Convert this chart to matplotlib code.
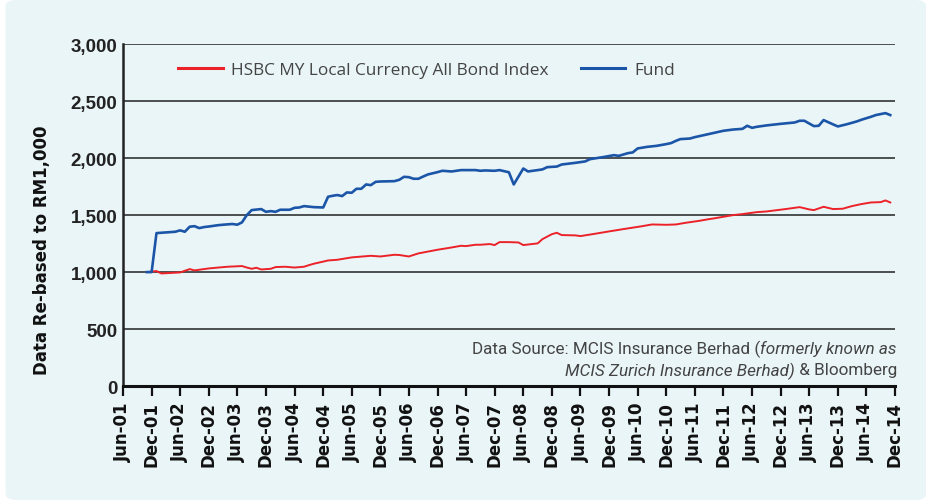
import pandas as pd
import matplotlib
matplotlib.use("Agg")
import matplotlib.pyplot as plt
import matplotlib.dates as mdates
from matplotlib.patches import FancyBboxPatch

# fund, re-based to RM1,000
FUND_DATES = [
    "2001-11", "2001-12", "2002-01", "2002-05", "2002-06", "2002-07", "2002-08",
    "2002-09", "2002-10", "2002-11", "2002-12", "2003-02", "2003-04", "2003-05",
    "2003-06", "2003-07", "2003-08", "2003-09", "2003-11", "2003-12", "2004-01",
    "2004-02", "2004-03", "2004-05", "2004-06", "2004-07", "2004-08", "2004-10",
    "2004-12", "2005-01", "2005-02", "2005-03", "2005-04", "2005-05", "2005-06",
    "2005-07", "2005-08", "2005-09", "2005-10", "2005-11", "2005-12", "2006-03",
    "2006-04", "2006-05", "2006-06", "2006-07", "2006-08", "2006-09", "2006-10",
    "2006-12", "2007-01", "2007-03", "2007-05", "2007-08", "2007-09", "2007-10",
    "2007-12", "2008-01", "2008-03", "2008-04", "2008-06", "2008-07", "2008-09",
    "2008-10", "2008-11", "2009-01", "2009-02", "2009-05", "2009-07", "2009-08",
    "2009-11", "2010-01", "2010-02", "2010-04", "2010-05", "2010-06", "2010-08",
    "2010-10", "2010-12", "2011-01", "2011-02", "2011-03", "2011-05", "2011-06",
    "2011-09", "2011-12", "2012-02", "2012-04", "2012-05", "2012-06", "2012-07",
    "2012-09", "2012-12", "2013-03", "2013-04", "2013-05", "2013-07", "2013-08",
    "2013-09", "2013-11", "2013-12", "2014-02", "2014-04", "2014-05", "2014-07",
    "2014-08", "2014-10", "2014-11",
]
FUND = [
    1000, 1000, 1342, 1354, 1366, 1354, 1398,
    1403, 1386, 1395, 1400, 1412, 1419, 1422,
    1416, 1436, 1500, 1544, 1553, 1529, 1535,
    1529, 1547, 1547, 1564, 1567, 1579, 1570,
    1567, 1661, 1670, 1676, 1667, 1699, 1696,
    1731, 1731, 1769, 1763, 1792, 1795, 1798,
    1810, 1836, 1833, 1819, 1819, 1839, 1857,
    1877, 1889, 1883, 1895, 1895, 1889, 1892,
    1889, 1895, 1876, 1769, 1909, 1883, 1895,
    1901, 1921, 1926, 1944, 1959, 1971, 1991,
    2011, 2026, 2020, 2044, 2050, 2085, 2099,
    2108, 2123, 2132, 2152, 2167, 2172, 2184,
    2212, 2240, 2251, 2257, 2284, 2266, 2275,
    2287, 2301, 2313, 2328, 2328, 2281, 2284,
    2334, 2296, 2278, 2299, 2322, 2337, 2363,
    2378, 2395, 2378,
]

# HSBC MY Local Currency All Bond Index
INDEX_DATES = [
    "2001-11", "2002-01", "2002-02", "2002-06", "2002-08", "2002-09", "2002-12",
    "2003-02", "2003-04", "2003-07", "2003-08", "2003-09", "2003-10", "2003-11",
    "2004-01", "2004-02", "2004-04", "2004-06", "2004-08", "2004-09", "2004-10",
    "2004-12", "2005-01", "2005-03", "2005-06", "2005-10", "2005-12", "2006-03",
    "2006-04", "2006-06", "2006-08", "2006-12", "2007-03", "2007-05", "2007-06",
    "2007-08", "2007-09", "2007-11", "2007-12", "2008-01", "2008-03", "2008-05",
    "2008-06", "2008-09", "2008-10", "2008-12", "2009-01", "2009-02", "2009-05",
    "2009-06", "2009-09", "2009-12", "2010-03", "2010-07", "2010-09", "2010-12",
    "2011-02", "2011-04", "2011-07", "2011-09", "2011-10", "2012-02", "2012-04",
    "2012-07", "2012-09", "2013-01", "2013-04", "2013-06", "2013-07", "2013-09",
    "2013-11", "2014-01", "2014-03", "2014-05", "2014-07", "2014-09", "2014-10",
    "2014-11",
]
INDEX = [
    1000, 1009, 988, 997, 1026, 1015, 1032,
    1040, 1047, 1053, 1040, 1029, 1038, 1023,
    1029, 1044, 1047, 1040, 1047, 1061, 1073,
    1092, 1102, 1108, 1129, 1143, 1137, 1152,
    1150, 1137, 1164, 1196, 1216, 1231, 1228,
    1240, 1240, 1246, 1237, 1263, 1263, 1260,
    1237, 1252, 1289, 1333, 1345, 1325, 1322,
    1316, 1336, 1357, 1377, 1403, 1418, 1415,
    1418, 1432, 1450, 1465, 1471, 1500, 1509,
    1526, 1532, 1553, 1570, 1550, 1544, 1573,
    1553, 1556, 1579, 1597, 1611, 1614, 1629,
    1611,
]

Y_TICKS = [0, 500, 1000, 1500, 2000, 2500, 3000]

PANEL = "#eaf5f8"
RED = "#ec2229"
BLUE = "#1b55a7"
TEXT = "#444444"


def main():
    fig = plt.figure(figsize=(9.26, 5.02), dpi=100)
    fig.patch.set_facecolor("white")
    fig.patches.append(FancyBboxPatch(
        (0.006, 0.002), 0.994, 0.996, boxstyle="round,pad=0,rounding_size=0.012",
        transform=fig.transFigure, facecolor=PANEL, edgecolor="none", zorder=-10))

    ax = fig.add_axes([0.1328, 0.229, 0.8337, 0.681])
    ax.set_facecolor("none")

    ax.plot(pd.to_datetime(INDEX_DATES), INDEX, color=RED, lw=1.4,
            label="HSBC MY Local Currency All Bond Index", zorder=3)
    ax.plot(pd.to_datetime(FUND_DATES), FUND, color=BLUE, lw=1.9,
            label="Fund", zorder=4)

    ax.set_ylim(0, 3000)
    ax.set_yticks(Y_TICKS)
    ax.set_yticklabels([f"{v:,}" for v in Y_TICKS], family="Liberation Sans",
                       weight="bold", fontsize=13.5, color="#222")
    ax.tick_params(axis="y", length=0, pad=4)
    ax.yaxis.grid(True, color="#222", lw=1.1)
    ax.set_axisbelow(True)

    xt = pd.date_range("2001-06-01", "2014-12-01", freq="6MS")
    ax.set_xlim(xt[0], xt[-1])
    ax.set_xticks(xt)
    ax.xaxis.set_major_formatter(mdates.DateFormatter("%b-%y"))
    for lab in ax.get_xticklabels():
        lab.set_rotation(90)
        lab.set_fontsize(12)
        lab.set_fontweight("bold")
        lab.set_family("DejaVu Sans")
        lab.set_color("#111")
    ax.tick_params(axis="x", length=7, width=1.6, color="#111", pad=4,
                   direction="out")

    for s in ("top", "right"):
        ax.spines[s].set_visible(False)
    ax.spines["left"].set_linewidth(1.8)
    ax.spines["bottom"].set_linewidth(2.2)
    ax.spines["left"].set_color("#222")
    ax.spines["bottom"].set_color("#111")

    fig.text(42 / 926, 0.502, "Data Re-based to RM1,000", rotation=90,
             ha="center", va="center", fontsize=12, weight="bold",
             family="DejaVu Sans", color="#111")

    leg = ax.legend(ncol=2, frameon=False, loc="center left",
                    bbox_to_anchor=(0.071, 0.924), borderpad=0, borderaxespad=0,
                    handlelength=2.6, handletextpad=0.5, columnspacing=1.85,
                    prop={"family": "Open Sans", "size": 12.4})
    for t in leg.get_texts():
        t.set_color(TEXT)
    for h in leg.get_lines():
        h.set_linewidth(2.2)

    # source note, right-aligned with mixed italic pieces
    fig.canvas.draw()
    rend = fig.canvas.get_renderer()
    lines = [
        [("Data Source: MCIS Insurance Berhad (", "normal"),
         ("formerly known as", "italic")],
        [("MCIS Zurich Insurance Berhad)", "italic"),
         (" & Bloomberg", "normal")],
    ]
    x_right = 897
    for yy, pieces in zip([349, 371], lines):
        x = x_right
        for txt, style in reversed(pieces):
            t = fig.text(x / 926, 1 - yy / 502, txt, ha="right", va="center",
                         fontsize=12.3, style=style, family="Roboto",
                         color=TEXT)
            bb = t.get_window_extent(rend)
            x = bb.x0

    fig.savefig("out.png", dpi=100, facecolor="white")


if __name__ == "__main__":
    main()
